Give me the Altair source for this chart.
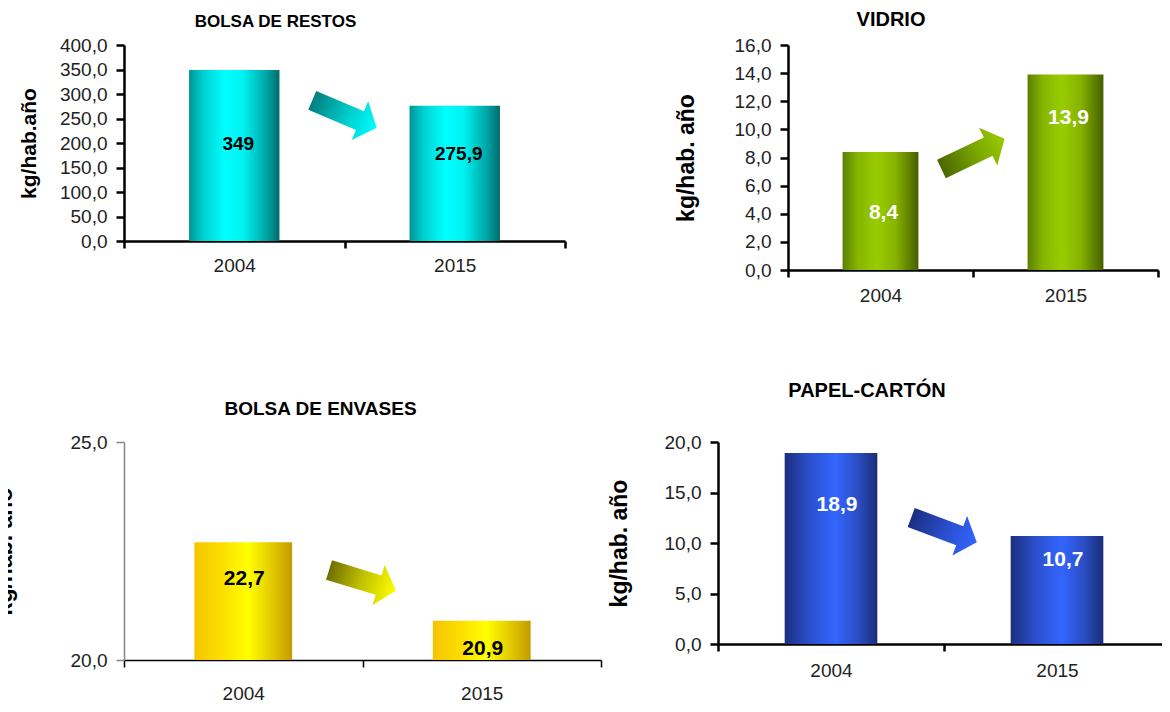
import altair as alt
import pandas as pd

# ---- data ----
years = ["2004", "2015"]
restos = [349.0, 275.9]
vidrio = [8.4, 13.9]
envases = [22.7, 20.9]
papel = [18.9, 10.7]

restos_ticks = [0, 50, 100, 150, 200, 250, 300, 350, 400]
vidrio_ticks = [0, 2, 4, 6, 8, 10, 12, 14, 16]
envases_ticks = [20, 25]
papel_ticks = [0, 5, 10, 15, 20]

titles = ["BOLSA DE RESTOS", "VIDRIO", "BOLSA DE ENVASES", "PAPEL-CARTÓN"]
y_titles = ["kg/hab.año", "kg/hab. año", "kg/hab. año", "kg/hab. año"]

FONT = "Liberation Sans"
ARROW = "M -1 -0.29 L 0.48 -0.29 L 0.48 -0.6 L 1 0 L 0.48 0.6 L 0.48 0.29 L -1 0.29 Z"


def grad(stops):
    return {"gradient": "linear", "x1": 0, "x2": 1, "y1": 0, "y2": 0,
            "stops": [{"offset": o, "color": c} for o, c in stops]}


def fmt(v):
    return f"{v:g}".replace(".", ",")


def panel(values, ticks, title, ytitle, bar_stops, arrow_stops, text_color,
          label_frac, arrow_frac, angle, w, h, tsize, tdx, toffset, lsize,
          ytsize, ytpad, xlabpad, ydom, xdom, ydw, xdw, label_dx):
    lo, hi = ticks[0], ticks[-1]
    df = pd.DataFrame({
        "year": years,
        "value": values,
        "text": [fmt(v) for v in values],
        "lab": [lo + (v - lo) * f for v, f in zip(values, label_frac)],
    })
    adf = pd.DataFrame({"year": [years[0]], "at": [lo + (hi - lo) * arrow_frac]})
    yscale = alt.Scale(domain=[lo, hi], nice=False, zero=False)
    xscale = alt.Scale(paddingInner=0, paddingOuter=0)
    xaxis = alt.Axis(
        title=None, labelAngle=0, tickBand="extent", tickSize=7,
        tickColor=xdom, tickWidth=xdw, domainColor=xdom, domainWidth=xdw,
        labelFont=FONT, labelFontSize=19, labelColor="#222222",
        labelPadding=xlabpad)
    yaxis = alt.Axis(
        values=ticks, labelExpr="replace(format(datum.value, '.1f'), '.', ',')",
        title=ytitle, titleFont=FONT, titleFontWeight="bold", titleFontSize=ytsize,
        titleColor="#000000", titlePadding=ytpad,
        labelFont=FONT, labelFontSize=19, labelColor="#222222", labelPadding=9,
        labelOverlap=False, tickSize=8, tickColor=ydom, tickWidth=ydw,
        domainColor=ydom, domainWidth=ydw, grid=False)

    bars = alt.Chart(df).mark_bar(width={"band": 0.41}, color=grad(bar_stops)).encode(
        x=alt.X("year:N", scale=xscale, sort=years, axis=xaxis),
        y=alt.Y("value:Q", scale=yscale, axis=yaxis),
        y2=alt.datum(lo),
    )
    text = alt.Chart(df).mark_text(
        font=FONT, fontWeight="bold", fontSize=lsize, color=text_color,
        baseline="middle", dx=label_dx).encode(
        x=alt.X("year:N", scale=xscale, sort=years, axis=xaxis),
        y=alt.Y("lab:Q", scale=yscale, axis=yaxis),
        text="text:N",
    )
    arrow = alt.Chart(adf).mark_point(
        shape=ARROW, size=4900, angle=angle, filled=True, fill=grad(arrow_stops),
        strokeWidth=0, opacity=1).encode(
        x=alt.X("year:N", scale=xscale, sort=years, bandPosition=1, axis=xaxis),
        y=alt.Y("at:Q", scale=yscale, axis=yaxis),
    )
    return alt.layer(bars, arrow, text).properties(
        width=w, height=h,
        title=alt.TitleParams(text=title, font=FONT, fontWeight="bold", fontSize=tsize,
                              color="#000000", anchor="middle", dx=tdx, offset=toffset),
    )


p1 = panel(restos, restos_ticks, titles[0], y_titles[0],
           [(0, "#009494"), (0.15, "#00CFCF"), (0.4, "#00FFFF"), (0.6, "#00F2F2"),
            (0.85, "#00A6A6"), (1, "#006A6A")],
           [(0, "#007F7F"), (0.55, "#00CCCC"), (1, "#00FFFF")],
           "#000000", [0.57, 0.64], 0.6475, 23, 441, 196, 17, -69, 5, 19,
           21, 20, 8, "#000000", "#000000", 2.5, 2.5, 4)
p2 = panel(vidrio, vidrio_ticks, titles[1], y_titles[1],
           [(0, "#5C7F00"), (0.2, "#86B500"), (0.45, "#99CC00"), (0.7, "#86B200"),
            (1, "#455F00")],
           [(0, "#4A6600"), (0.55, "#7AA600"), (1, "#99CC00")],
           "#FFFFFF", [0.48, 0.78], 0.516, 334.5, 370, 225, 20, -82, 6, 21,
           23, 36, 9, "#000000", "#000000", 2.5, 2.5, 3)
p3 = panel(envases, envases_ticks, titles[2], y_titles[2],
           [(0, "#F5C400"), (0.3, "#FCE000"), (0.55, "#FFFF00"), (0.8, "#E2C800"),
            (1, "#C49A00")],
           [(0, "#6E6E00"), (0.5, "#C2C200"), (1, "#FFFF00")],
           "#000000", [0.69, 0.28], 0.366, 17, 477, 218, 19, -42, 14, 21,
           23, 54, 17, "#868686", "#000000", 1.5, 1.5, 1)
p4 = panel(papel, papel_ticks, titles[3], y_titles[3],
           [(0, "#1B2F7D"), (0.25, "#2A4DC8"), (0.55, "#3366FF"), (0.8, "#2A4CC0"),
            (1, "#1A2D78")],
           [(0, "#1A2E80"), (0.55, "#2A4FCF"), (1, "#3366FF")],
           "#FFFFFF", [0.73, 0.78], 0.565, 20.5, 452, 202, 20, -77, 32, 21,
           23, 33, 10, "#000000", "#000000", 2.5, 2.5, 6)

row1 = alt.hconcat(p1, p2, spacing=223, bounds="flush")
row2 = alt.hconcat(p3, p4, spacing=117, bounds="flush")

chart = alt.vconcat(
    row1, row2, spacing=397, bounds="flush",
).properties(
    autosize=alt.AutoSizeParams(type="none"),
    padding={"left": 116, "top": 37, "right": 1038, "bottom": 659},
    background="#FFFFFF",
).configure_view(stroke=None)

chart.save("out.html", embed_options={"renderer": "svg", "actions": False})
